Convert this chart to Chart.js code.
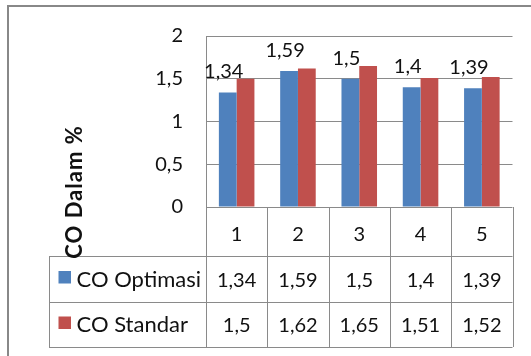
<!DOCTYPE html>
<html>
<head>
<meta charset="utf-8">
<script src="https://cdn.jsdelivr.net/npm/chart.js@4/dist/chart.umd.min.js"></script>
<style>
  html, body { margin: 0; padding: 0; background: #fff; }
  #wrap { width: 531px; height: 356px; }
</style>
</head>
<body>
<div id="wrap"><canvas id="c" width="531" height="356"></canvas></div>
<script>
// Measurement number (1..5) and CO content (%) per run
const categories = ['1', '2', '3', '4', '5'];
const coOptimasi = [1.34, 1.59, 1.5, 1.4, 1.39];
const coStandar = [1.5, 1.62, 1.65, 1.51, 1.52];
const yTicks = [0, 0.5, 1, 1.5, 2];
const seriesNames = ['CO Optimasi', 'CO Standar'];

const BLUE = '#4F81BD';
const RED = '#C0504D';
const LINE = '#8a8a8a';
const TEXT = '#111';
const FONT = 'Lato, "Liberation Sans", sans-serif';

// Decimal comma formatting
const fmt = v => String(v).replace('.', ',');

// Outer frame + data table under the plot + rotated axis title + value labels
const decorations = {
  id: 'decorations',
  beforeDraw(chart) {
    const ctx = chart.ctx;
    ctx.save();
    ctx.fillStyle = '#fff';
    ctx.fillRect(0, 0, chart.width, chart.height);
    ctx.strokeStyle = '#888';
    ctx.lineWidth = 2;
    ctx.strokeRect(8, 6, chart.width + 20, chart.height + 20);
    ctx.restore();
  },
  afterDraw(chart) {
    const ctx = chart.ctx;
    const area = chart.chartArea;
    const x = chart.scales.x;
    const n = categories.length;
    const colW = (area.right - area.left) / n;
    const top = area.bottom;
    const catH = 49;
    const rowH = 45.5;
    const tableLeft = 49;
    const rowTops = [top + catH, top + catH + rowH];
    const bottom = top + catH + 2 * rowH;

    ctx.save();
    ctx.strokeStyle = LINE;
    ctx.lineWidth = 1;
    ctx.beginPath();
    // column separators
    for (let i = 0; i <= n; i++) {
      const px = Math.round(area.left + i * colW) + 0.5;
      ctx.moveTo(px, top);
      ctx.lineTo(px, bottom);
    }
    // legend column left edge
    ctx.moveTo(tableLeft + 0.5, rowTops[0]);
    ctx.lineTo(tableLeft + 0.5, bottom);
    // row separators
    [rowTops[0], rowTops[1], bottom].forEach(y => {
      const py = Math.round(y) + 0.5;
      ctx.moveTo(tableLeft, py);
      ctx.lineTo(area.right, py);
    });
    ctx.stroke();

    ctx.fillStyle = TEXT;
    ctx.font = '20px ' + FONT;
    ctx.textAlign = 'center';
    ctx.textBaseline = 'alphabetic';
    categories.forEach((c, i) => {
      ctx.fillText(c, x.getPixelForValue(i), top + 34);
    });
    const rows = [coOptimasi, coStandar];
    const colors = [BLUE, RED];
    rows.forEach((vals, r) => {
      const base = rowTops[r] + 30.5;
      ctx.font = '20px ' + FONT;
      vals.forEach((v, i) => {
        ctx.textAlign = 'center';
        ctx.fillStyle = TEXT;
        ctx.fillText(fmt(v), x.getPixelForValue(i), base);
      });
      ctx.fillStyle = colors[r];
      ctx.fillRect(58.5, rowTops[r] + 15, 12.5, 12.5);
      ctx.fillStyle = TEXT;
      ctx.textAlign = 'left';
      ctx.font = '22px ' + FONT;
      ctx.fillText(seriesNames[r], 76.5, base);
    });

    // value labels above the first series
    const meta = chart.getDatasetMeta(0);
    ctx.font = '20px ' + FONT;
    ctx.textAlign = 'center';
    ctx.fillStyle = TEXT;
    meta.data.forEach((bar, i) => {
      ctx.fillText(fmt(coOptimasi[i]), bar.x - 4, bar.y - 14);
    });

    // y axis title
    ctx.save();
    ctx.translate(82, 192);
    ctx.rotate(-Math.PI / 2);
    ctx.font = 'bold 22px ' + FONT;
    ctx.letterSpacing = '1px';
    ctx.textAlign = 'center';
    ctx.textBaseline = 'alphabetic';
    ctx.fillText('CO Dalam %', 0, 0);
    ctx.restore();

    ctx.restore();
  }
};

new Chart(document.getElementById('c'), {
  type: 'bar',
  data: {
    labels: categories,
    datasets: [
      { label: seriesNames[0], data: coOptimasi, backgroundColor: BLUE,
        categoryPercentage: 0.58, barPercentage: 1 },
      { label: seriesNames[1], data: coStandar, backgroundColor: RED,
        categoryPercentage: 0.58, barPercentage: 1 }
    ]
  },
  options: {
    responsive: false,
    animation: false,
    layout: { padding: { left: 0, right: 18.5, top: 36, bottom: 149 } },
    plugins: { legend: { display: false }, tooltip: { enabled: false } },
    scales: {
      x: { display: false },
      y: {
        min: 0, max: 2,
        afterBuildTicks: s => { s.ticks = yTicks.map(v => ({ value: v })); },
        afterFit: s => { s.width = 206; },
        grid: { color: LINE, drawTicks: false },
        border: { color: LINE },
        ticks: {
          padding: 23,
          color: TEXT,
          font: { family: FONT, size: 20 },
          callback: v => fmt(v)
        }
      }
    }
  },
  plugins: [decorations]
});
</script>
</body>
</html>
